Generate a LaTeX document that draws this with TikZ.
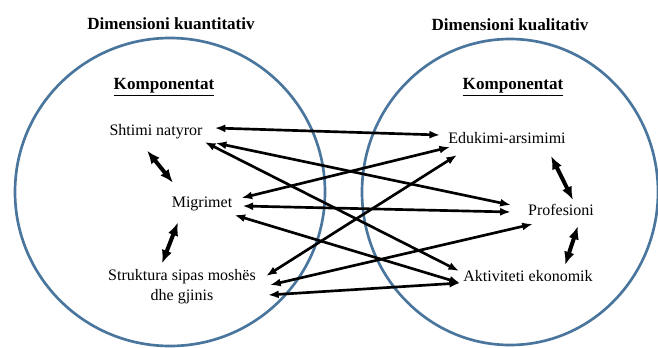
\documentclass[tikz,border=0pt]{standalone}
\usepackage{fontspec}
\setmainfont{Liberation Serif}
\usetikzlibrary{calc, arrows.meta}
\definecolor{ringblue}{RGB}{74,118,158}
\tikzset{>={Latex[length=8pt,width=6pt]}}

\begin{document}
\begin{tikzpicture}[x=0.75pt, y=-0.75pt, font=\fontsize{12}{15}\selectfont,
  ring/.style={draw=ringblue, line width=2pt},
  item/.style={inner sep=0pt, align=center},
  head/.style={inner sep=0pt, font=\fontsize{12.8}{15}\selectfont\bfseries},
  link/.style={<->, line width=2pt},
  bond/.style={<->, line width=3pt, >={Latex[length=10pt,width=8pt]}}]
\useasboundingbox (0,0) rectangle (658,347);

% the two dimensions
\draw[ring] (170,192) ellipse [x radius=155, y radius=154];
\draw[ring] (510,192) ellipse [x radius=148, y radius=153];

\node[head] (kuant) at (171,24) {Dimensioni kuantitativ};
\node[head] (kual) at (510,25) {Dimensioni kualitativ};
\node[head] (kompL) at (164,87) {\underline{Komponentat}};
\node[head] (kompR) at (513,87) {\underline{Komponentat}};

% components
\node[item] (shtimi) at (156,132) {Shtimi natyror};
\node[item] (migrimet) at (202,204) {Migrimet};
\node[item] (struktura) at (182,287) {Struktura sipas moshës\\dhe gjinis};
\node[item] (edukimi) at (507,138) {Edukimi-arsimimi};
\node[item] (profesioni) at (561,210) {Profesioni};
\node[item] (aktiviteti) at (528,276) {Aktiviteti ekonomik};

% links between the dimensions
\path[link]
($(shtimi.east)+(12,-4)$) edge ($(edukimi.west)+(-8,-3)$)
($(shtimi.east)+(13,11)$) edge ($(profesioni.west)+(-17,-5)$)
($(shtimi.east)+(2,10)$) edge ($(aktiviteti.west)+(-4,-5)$)
($(migrimet.east)+(9,-6)$) edge ($(edukimi.west)+(2,9)$)
($(migrimet.east)+(10,2)$) edge ($(profesioni.west)+(-17,2)$)
($(migrimet.east)+(2,11)$) edge ($(aktiviteti.west)+(-3,7)$)
($(struktura.east)+(10,-11)$) edge ($(edukimi.west)+(9,17)$)
($(struktura.east)+(14,-2)$) edge ($(profesioni.west)+(5,14)$)
($(struktura.east)+(12,8)$) edge ($(aktiviteti.west)+(-3,7)$)
;

% links inside each dimension
\path[bond]
($(shtimi.south)+(-9,11)$) edge ($(migrimet.north)+(-29,-14)$)
($(migrimet.south)+(-24,11)$) edge ($(struktura.north)+(-20,-6)$)
($(edukimi.south)+(44,12)$) edge ($(profesioni.north)+(12,-4)$)
($(profesioni.south)+(17,10)$) edge ($(aktiviteti.north)+(37,-5)$)
;
\end{tikzpicture}
\end{document}
